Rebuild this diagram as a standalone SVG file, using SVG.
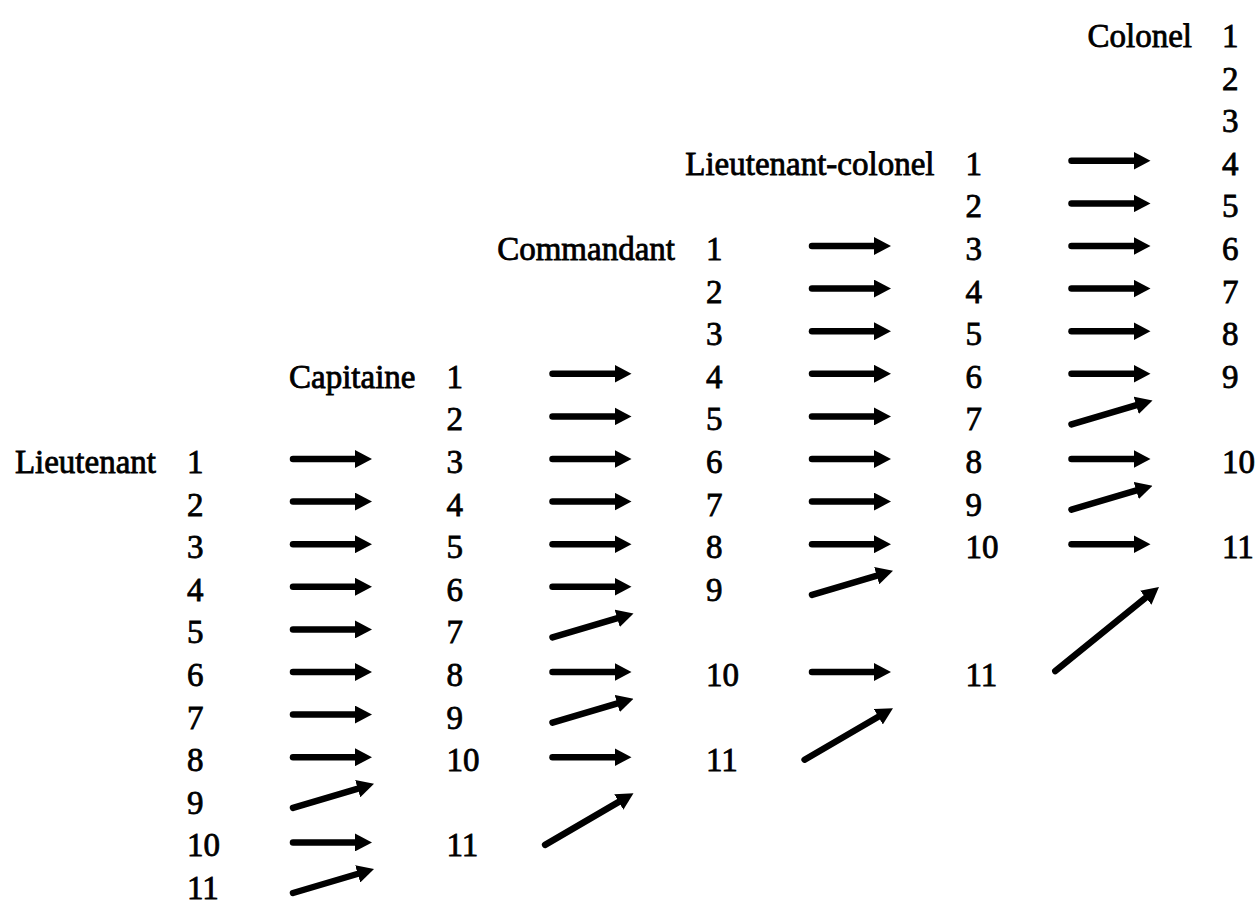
<svg xmlns="http://www.w3.org/2000/svg" width="1257" height="906" viewBox="0 0 1257 906">
<style>
.t text{font-size:33px;fill:#000;stroke:#000;stroke-width:0.8}
.lbl{text-anchor:end}
.arr{stroke:#000;stroke-width:6.5;stroke-linecap:round;fill:none;marker-end:url(#ah)}
</style>
<defs>
<marker id="ah" markerUnits="userSpaceOnUse" viewBox="0 0 17 18" markerWidth="17" markerHeight="18" refX="3" refY="9" orient="auto">
<path d="M0,0 L17,9 L0,18 Z" fill="#000"/>
</marker>
</defs>
<rect width="1257" height="906" fill="#fff"/>
<g class="t" font-family="'Liberation Serif', 'Times New Roman', Times, 'DejaVu Serif', serif">
<g id="lieutenant">
<text class="lbl" x="156" y="473">Lieutenant</text>
<text x="187" y="473">1</text>
<text x="187" y="515.6">2</text>
<text x="187" y="558.2">3</text>
<text x="187" y="600.8">4</text>
<text x="187" y="643.4">5</text>
<text x="187" y="686">6</text>
<text x="187" y="728.6">7</text>
<text x="187" y="771.2">8</text>
<text x="187" y="813.8">9</text>
<text x="187" y="856.4">10</text>
<text x="187" y="899">11</text>
</g>
<g id="capitaine">
<text class="lbl" x="415.5" y="387.8">Capitaine</text>
<text x="446.5" y="387.8">1</text>
<text x="446.5" y="430.4">2</text>
<text x="446.5" y="473">3</text>
<text x="446.5" y="515.6">4</text>
<text x="446.5" y="558.2">5</text>
<text x="446.5" y="600.8">6</text>
<text x="446.5" y="643.4">7</text>
<text x="446.5" y="686">8</text>
<text x="446.5" y="728.6">9</text>
<text x="446.5" y="771.2">10</text>
<text x="446.5" y="856.4">11</text>
</g>
<g id="commandant">
<text class="lbl" x="675" y="260">Commandant</text>
<text x="706" y="260">1</text>
<text x="706" y="302.6">2</text>
<text x="706" y="345.2">3</text>
<text x="706" y="387.8">4</text>
<text x="706" y="430.4">5</text>
<text x="706" y="473">6</text>
<text x="706" y="515.6">7</text>
<text x="706" y="558.2">8</text>
<text x="706" y="600.8">9</text>
<text x="706" y="686">10</text>
<text x="706" y="771.2">11</text>
</g>
<g id="lieutenant-colonel">
<text class="lbl" x="934.5" y="174.8">Lieutenant-colonel</text>
<text x="965.5" y="174.8">1</text>
<text x="965.5" y="217.4">2</text>
<text x="965.5" y="260">3</text>
<text x="965.5" y="302.6">4</text>
<text x="965.5" y="345.2">5</text>
<text x="965.5" y="387.8">6</text>
<text x="965.5" y="430.4">7</text>
<text x="965.5" y="473">8</text>
<text x="965.5" y="515.6">9</text>
<text x="965.5" y="558.2">10</text>
<text x="965.5" y="686">11</text>
</g>
<g id="colonel">
<text class="lbl" x="1192" y="47">Colonel</text>
<text x="1222" y="47">1</text>
<text x="1222" y="89.6">2</text>
<text x="1222" y="132.2">3</text>
<text x="1222" y="174.8">4</text>
<text x="1222" y="217.4">5</text>
<text x="1222" y="260">6</text>
<text x="1222" y="302.6">7</text>
<text x="1222" y="345.2">8</text>
<text x="1222" y="387.8">9</text>
<text x="1222" y="473">10</text>
<text x="1222" y="558.2">11</text>
</g>
</g>
<g id="connectors">
<line class="arr" x1="293" y1="459" x2="358" y2="459"/>
<line class="arr" x1="293" y1="501.6" x2="358" y2="501.6"/>
<line class="arr" x1="293" y1="544.2" x2="358" y2="544.2"/>
<line class="arr" x1="293" y1="586.8" x2="358" y2="586.8"/>
<line class="arr" x1="293" y1="629.4" x2="358" y2="629.4"/>
<line class="arr" x1="293" y1="672" x2="358" y2="672"/>
<line class="arr" x1="293" y1="714.6" x2="358" y2="714.6"/>
<line class="arr" x1="293" y1="757.2" x2="358" y2="757.2"/>
<line class="arr" x1="293" y1="807.8" x2="360.6" y2="787.8"/>
<line class="arr" x1="293" y1="842.4" x2="358" y2="842.4"/>
<line class="arr" x1="293" y1="893" x2="360.6" y2="873"/>
<line class="arr" x1="552.5" y1="373.8" x2="617.5" y2="373.8"/>
<line class="arr" x1="552.5" y1="416.4" x2="617.5" y2="416.4"/>
<line class="arr" x1="552.5" y1="459" x2="617.5" y2="459"/>
<line class="arr" x1="552.5" y1="501.6" x2="617.5" y2="501.6"/>
<line class="arr" x1="552.5" y1="544.2" x2="617.5" y2="544.2"/>
<line class="arr" x1="552.5" y1="586.8" x2="617.5" y2="586.8"/>
<line class="arr" x1="552.5" y1="637.4" x2="620.1" y2="617.4"/>
<line class="arr" x1="552.5" y1="672" x2="617.5" y2="672"/>
<line class="arr" x1="552.5" y1="722.6" x2="620.1" y2="702.6"/>
<line class="arr" x1="552.5" y1="757.2" x2="617.5" y2="757.2"/>
<line class="arr" x1="545.1" y1="844.9" x2="621.4" y2="800.4"/>
<line class="arr" x1="812" y1="246" x2="877" y2="246"/>
<line class="arr" x1="812" y1="288.6" x2="877" y2="288.6"/>
<line class="arr" x1="812" y1="331.2" x2="877" y2="331.2"/>
<line class="arr" x1="812" y1="373.8" x2="877" y2="373.8"/>
<line class="arr" x1="812" y1="416.4" x2="877" y2="416.4"/>
<line class="arr" x1="812" y1="459" x2="877" y2="459"/>
<line class="arr" x1="812" y1="501.6" x2="877" y2="501.6"/>
<line class="arr" x1="812" y1="544.2" x2="877" y2="544.2"/>
<line class="arr" x1="812" y1="594.8" x2="879.6" y2="574.8"/>
<line class="arr" x1="812" y1="672" x2="877" y2="672"/>
<line class="arr" x1="804.6" y1="759.7" x2="880.9" y2="715.2"/>
<line class="arr" x1="1071.5" y1="160.8" x2="1136.5" y2="160.8"/>
<line class="arr" x1="1071.5" y1="203.4" x2="1136.5" y2="203.4"/>
<line class="arr" x1="1071.5" y1="246" x2="1136.5" y2="246"/>
<line class="arr" x1="1071.5" y1="288.6" x2="1136.5" y2="288.6"/>
<line class="arr" x1="1071.5" y1="331.2" x2="1136.5" y2="331.2"/>
<line class="arr" x1="1071.5" y1="373.8" x2="1136.5" y2="373.8"/>
<line class="arr" x1="1071.5" y1="424.4" x2="1139.1" y2="404.4"/>
<line class="arr" x1="1071.5" y1="459" x2="1136.5" y2="459"/>
<line class="arr" x1="1071.5" y1="509.6" x2="1139.1" y2="489.6"/>
<line class="arr" x1="1071.5" y1="544.2" x2="1136.5" y2="544.2"/>
<line class="arr" x1="1055.3" y1="671.1" x2="1148.1" y2="595.8"/>
</g>
</svg>
